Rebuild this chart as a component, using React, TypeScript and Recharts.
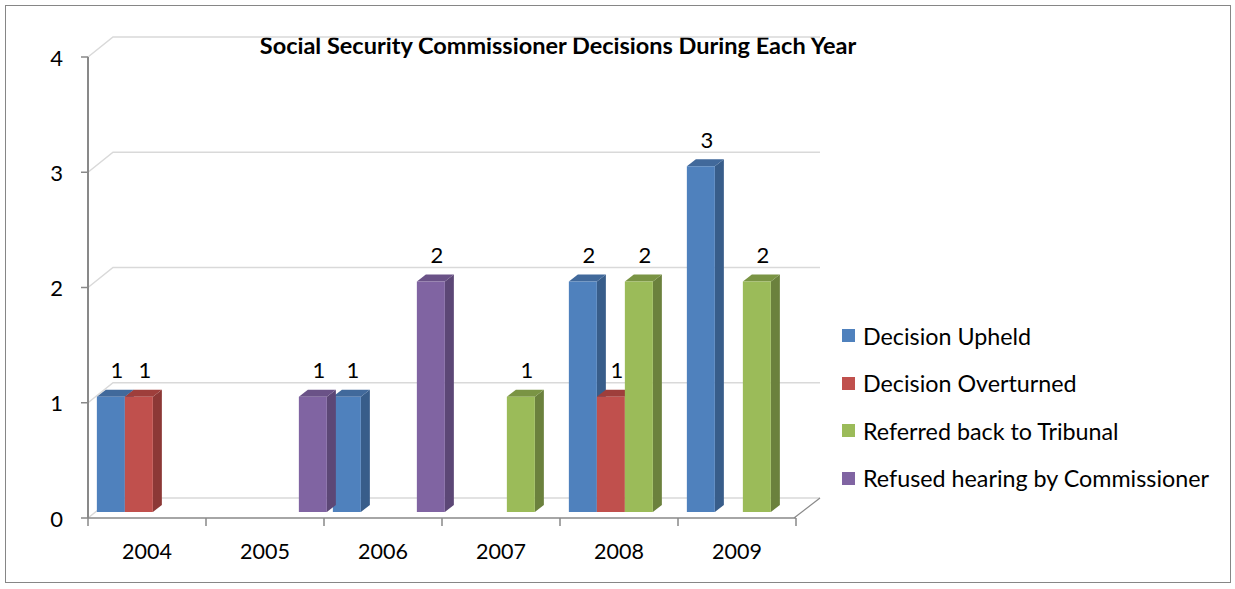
import { BarChart, Bar, XAxis, YAxis, CartesianGrid, LabelList } from 'recharts'

const years = ['2004', '2005', '2006', '2007', '2008', '2009']
const upheld = [1, null, 1, null, 2, 3]
const overturned = [1, null, null, null, 1, null]
const referred = [null, null, null, 1, 2, 2]
const refused = [null, 1, 2, null, null, null]
const yTicks = [0, 1, 2, 3, 4]

const seriesList = [
  { key: 'upheld', name: 'Decision Upheld', front: '#4F81BD', top: '#41699B', side: '#385D8A' },
  { key: 'overturned', name: 'Decision Overturned', front: '#C0504D', top: '#9E3E3B', side: '#8C3836' },
  { key: 'referred', name: 'Referred back to Tribunal', front: '#9BBB59', top: '#7A9444', side: '#6B813D' },
  { key: 'refused', name: 'Refused hearing by Commissioner', front: '#8064A2', top: '#6A5287', side: '#5C4776' },
]

const data = years.map((year, i) => ({
  year,
  upheld: upheld[i],
  overturned: overturned[i],
  referred: referred[i],
  refused: refused[i],
}))

const FONT = 'Lato, "Open Sans", sans-serif'
const AXIS = '#898989'
const GRID = '#D9D9D9'
// 3D projection of bars (set back into the floor) and of the back wall
const BAR_DX = 6.5
const BAR_DY = 6
const DEPTH_X = 9
const DEPTH_Y = 7
const WALL_DX = 25
const WALL_DY = 20

const makeShape = (front: string, top: string, side: string) => (props: any) => {
  const { x, y, width, height } = props
  if (!height || height <= 0) return <g />
  const fx = x + BAR_DX
  const fy = y - BAR_DY
  return (
    <g>
      <path
        d={`M${fx + width},${fy} L${fx + width + DEPTH_X},${fy - DEPTH_Y} L${fx + width + DEPTH_X},${fy + height - DEPTH_Y} L${fx + width},${fy + height} Z`}
        fill={side}
      />
      <path
        d={`M${fx},${fy} L${fx + DEPTH_X},${fy - DEPTH_Y} L${fx + width + DEPTH_X},${fy - DEPTH_Y} L${fx + width},${fy} Z`}
        fill={top}
      />
      <rect x={fx} y={fy} width={width} height={height} fill={front} />
    </g>
  )
}

const valueLabel = (props: any) => {
  const { x, y, width, value } = props
  if (value == null) return null
  return (
    <text
      x={Number(x) + Number(width) / 2 + BAR_DX + 6}
      y={Number(y) - BAR_DY - 27}
      textAnchor="middle"
      dominantBaseline="central"
      fontFamily={FONT}
      fontSize={22}
      fill="#000"
    >
      {value}
    </text>
  )
}

const gridLine = (props: any) => {
  const { x1, y1, x2, y, height } = props
  const isFloor = Math.abs(y1 - (y + height)) < 1
  return (
    <g key={`g-${y1}`}>
      <path
        d={`M${x1},${y1} L${x1 + WALL_DX},${y1 - WALL_DY} L${x2 + WALL_DX - 1},${y1 - WALL_DY}`}
        fill="none"
        stroke={GRID}
        strokeWidth={1.5}
      />
      {isFloor && (
        <line x1={x2 - 2} y1={y1} x2={x2 + WALL_DX - 1} y2={y1 - WALL_DY} stroke={AXIS} strokeWidth={1.2} />
      )}
    </g>
  )
}

const yTick = (props: any) => {
  const { x, y, payload } = props
  return (
    <text x={x - 16} y={y} textAnchor="end" dominantBaseline="central" fontFamily={FONT} fontSize={22} fill="#000">
      {payload.value}
    </text>
  )
}

const xTick = (props: any) => {
  const { x, y, payload, index, visibleTicksCount } = props
  const half = 59
  const top = y - 8
  return (
    <g>
      <line x1={x - half} y1={top} x2={x - half} y2={top + 8} stroke={AXIS} strokeWidth={1.5} />
      {index === visibleTicksCount - 1 && (
        <line x1={x + half} y1={top} x2={x + half} y2={top + 8} stroke={AXIS} strokeWidth={1.5} />
      )}
      <text x={x} y={top + 33} textAnchor="middle" dominantBaseline="central" fontFamily={FONT} fontSize={21.5} fill="#000">
        {payload.value}
      </text>
    </g>
  )
}

export default function App() {
  return (
    <div style={{ position: 'absolute', left: 0, top: 0, width: 1235, height: 589, background: '#fff' }}>
      <div
        style={{
          position: 'absolute',
          left: 5,
          top: 5,
          width: 1224,
          height: 576,
          border: '1px solid #868686',
        }}
      />
      <div
        style={{
          position: 'absolute',
          left: 0,
          width: 1116,
          top: 31,
          textAlign: 'center',
          fontFamily: FONT,
          fontWeight: 700,
          fontSize: 23.5,
          color: '#000',
          whiteSpace: 'nowrap',
        }}
      >
        Social Security Commissioner Decisions During Each Year
      </div>
      <div style={{ position: 'absolute', left: 0, top: 0 }}>
        <BarChart
          width={1235}
          height={589}
          data={data}
          margin={{ top: 57, right: 439, bottom: 31, left: 48 }}
          barCategoryGap="2%"
          barGap={0}
        >
          <CartesianGrid vertical={false} horizontal={gridLine} />
          <XAxis
            dataKey="year"
            height={40}
            axisLine={{ stroke: AXIS, strokeWidth: 1.5 }}
            tickLine={false}
            tick={xTick}
            interval={0}
          />
          <YAxis
            width={40}
            domain={[0, 4]}
            ticks={yTicks}
            interval={0}
            axisLine={{ stroke: AXIS, strokeWidth: 2 }}
            tickSize={7}
            tickLine={{ stroke: AXIS, strokeWidth: 1.5 }}
            tick={yTick}
          />
          {seriesList.map((s) => (
            <Bar
              key={s.key}
              dataKey={s.key}
              name={s.name}
              fill={s.front}
              shape={makeShape(s.front, s.top, s.side)}
              isAnimationActive={false}
            >
              <LabelList dataKey={s.key} content={valueLabel} />
            </Bar>
          ))}
        </BarChart>
      </div>
      <div style={{ position: 'absolute', left: 842, top: 312, fontFamily: FONT, fontSize: 23.3, color: '#000' }}>
        {seriesList.map((s) => (
          <div key={s.key} style={{ display: 'flex', alignItems: 'center', height: 47.5, whiteSpace: 'nowrap' }}>
            <span style={{ width: 13, height: 13, background: s.front, marginRight: 8, display: 'inline-block' }} />
            <span>{s.name}</span>
          </div>
        ))}
      </div>
    </div>
  )
}
